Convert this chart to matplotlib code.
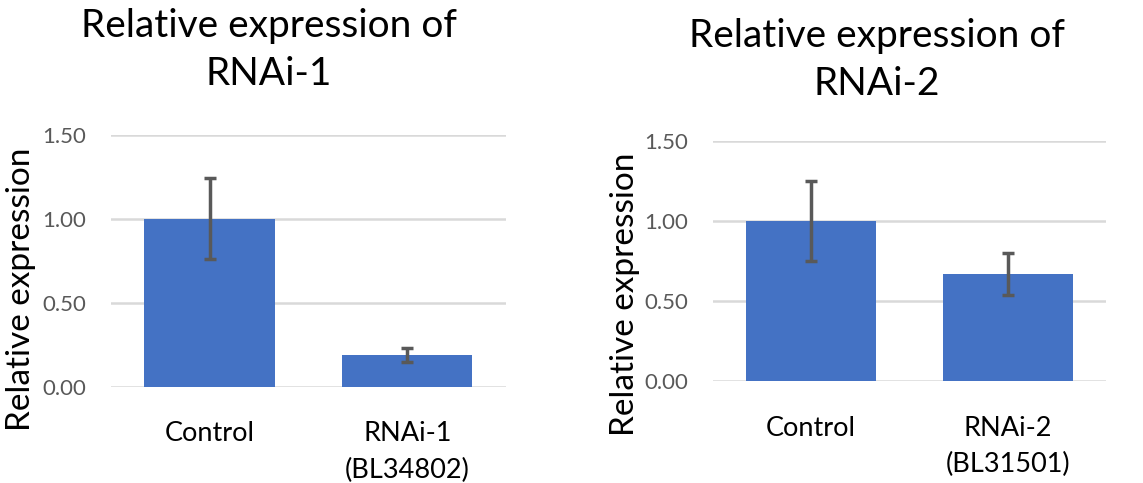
import numpy as np
import matplotlib
matplotlib.use('Agg')
from matplotlib import pyplot as plt

plt.rcParams['font.family'] = ['Lato', 'DejaVu Sans']

# panel 1
cats1 = ['Control', 'RNAi-1\n(BL34802)']
vals1 = [1.00, 0.19]
errs1 = [0.24, 0.042]

# panel 2
cats2 = ['Control', 'RNAi-2\n(BL31501)']
vals2 = [1.00, 0.67]
errs2 = [0.248, 0.133]

titles = ['Relative expression of\nRNAi-1', 'Relative expression of\nRNAi-2']
yticks = [0.0, 0.5, 1.0, 1.5]

bar_col = '#4472C4'
err_col = '#595959'
grid_col = '#D9D9D9'

fig = plt.figure(figsize=(11.43, 4.83), dpi=100)
ax1 = fig.add_axes([0.0969, 0.1994, 0.3458, 0.5217])
ax2 = fig.add_axes([0.6238, 0.2112, 0.3438, 0.4969])


def draw(ax, cats, vals, errs):
    x = np.arange(len(cats))
    ax.bar(x, vals, width=0.66, color=bar_col, zorder=2)
    ax.errorbar(x, vals, yerr=errs, fmt='none', ecolor=err_col,
                elinewidth=2.5, capsize=4.5, capthick=2.5, zorder=3)
    ax.set_xlim(-0.5, len(cats) - 0.5)
    ax.set_ylim(0, 1.5)
    ax.set_yticks(yticks)
    ax.set_yticklabels(['%.2f' % v for v in yticks])
    ax.set_xticks(x)
    ax.set_xticklabels(cats, fontsize=19.5, linespacing=1.55)
    for s in ax.spines.values():
        s.set_visible(False)
    ax.tick_params(axis='both', length=0)
    ax.tick_params(axis='x', pad=25, colors='black')
    ax.tick_params(axis='y', pad=18, labelsize=16, labelcolor='#595959')
    ax.yaxis.grid(True, color=grid_col, lw=1.8, zorder=0)
    ax.set_axisbelow(True)
    ax.set_ylabel('Relative expression', fontsize=24)


draw(ax1, cats1, vals1, errs1)
draw(ax2, cats2, vals2, errs2)
ax1.yaxis.set_label_coords(-0.19, 0.385)
ax2.yaxis.set_label_coords(-0.187, 0.36)

fig.text(0.235, 0.896, titles[0], ha='center', va='center', fontsize=28,
         linespacing=1.4)
fig.text(0.767, 0.876, titles[1], ha='center', va='center', fontsize=28,
         linespacing=1.4)

fig.savefig('out.png', dpi=100)
